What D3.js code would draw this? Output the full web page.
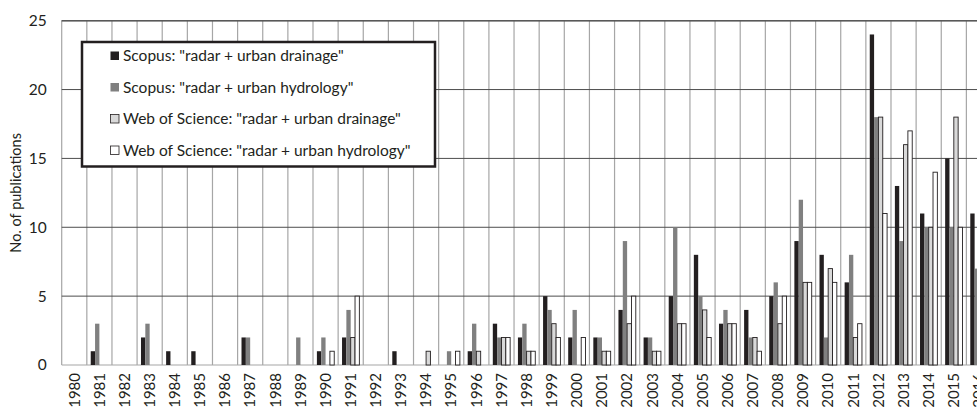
<!DOCTYPE html>
<html>
<head>
<meta charset="utf-8">
<script src="https://cdn.jsdelivr.net/npm/d3@7"></script>
<style>
  body { margin: 0; background: #fff; }
  svg { display: block; font-family: Lato, "Open Sans", sans-serif; }
</style>
</head>
<body>
<div id="chart"></div>
<script>
const years = d3.range(1980, 2017).map(String);

// values, one per year 1980..2016 (null = cut off at the right edge)
const scopusDrainage   = [0,1,0,2,1,1,0,2,0,0,1,2,0,1,0,0,1,3,2,5,2,2,4,2,5,8,3,4,5,9,8,6,24,13,11,15,11];
const scopusHydrology  = [0,3,0,3,0,0,0,2,0,2,2,4,0,0,0,1,3,2,3,4,4,2,9,2,10,5,4,2,6,12,2,8,18,9,10,10,7];
const wosDrainage      = [0,0,0,0,0,0,0,0,0,0,0,2,0,0,1,0,1,2,1,3,0,1,3,1,3,4,3,2,3,6,7,2,18,16,10,18,null];
const wosHydrology     = [0,0,0,0,0,0,0,0,0,0,1,5,0,0,0,1,0,2,1,2,2,1,5,1,3,2,3,1,5,6,6,3,11,17,14,10,null];

const seriesNames = [
  'Scopus: "radar + urban drainage"',
  'Scopus: "radar + urban hydrology"',
  'Web of Science: "radar + urban drainage"',
  'Web of Science: "radar + urban hydrology"'
];
const yTicks = [0, 5, 10, 15, 20, 25];

const series = [scopusDrainage, scopusHydrology, wosDrainage, wosHydrology];
const fills = ['#231f20', '#808080', '#d9d9d9', '#ffffff'];
const strokes = ['none', 'none', '#231f20', '#231f20'];

const width = 977, height = 408;
const plotLeft = 61.7, plotTop = 20.7, plotBottom = 365;
const band = 25.13;

const svg = d3.select('#chart').append('svg')
  .attr('width', width)
  .attr('height', height);

const x = d3.scaleBand().domain(years)
  .range([plotLeft, plotLeft + band * years.length])
  .padding(0);

const y = d3.scaleLinear().domain([0, 25]).range([plotBottom, plotTop]);

const barW = x.bandwidth() / 5.8;   // excel style, gap width 180%

// vertical gridlines at category boundaries
svg.append('g').selectAll('line.vgrid')
  .data(years)
  .join('line')
    .attr('x1', d => x(d)).attr('x2', d => x(d))
    .attr('y1', plotTop).attr('y2', plotBottom)
    .attr('stroke', '#a6a6a6').attr('stroke-width', 1.2);

// horizontal gridlines
svg.append('g').selectAll('line.hgrid')
  .data(yTicks.filter(d => d > 0))
  .join('line')
    .attr('x1', plotLeft).attr('x2', width)
    .attr('y1', d => y(d)).attr('y2', d => y(d))
    .attr('stroke', '#4d4d4d').attr('stroke-width', 1);

// baseline
svg.append('line')
  .attr('x1', plotLeft).attr('x2', width)
  .attr('y1', y(0)).attr('y2', y(0))
  .attr('stroke', '#a6a6a6').attr('stroke-width', 1.2);

// bars
series.forEach((vals, i) => {
  svg.append('g').selectAll('rect')
    .data(years.map((yr, j) => ({ yr, v: vals[j] })).filter(d => d.v))
    .join('rect')
      .attr('x', d => x(d.yr) + 0.9 * barW + i * barW)
      .attr('y', d => y(d.v))
      .attr('width', barW)
      .attr('height', d => y(0) - y(d.v))
      .attr('fill', fills[i])
      .attr('stroke', strokes[i])
      .attr('stroke-width', 0.9);
});

// y axis
const yAxis = d3.axisLeft(y).tickValues(yTicks).tickSize(0).tickPadding(0);
svg.append('g')
  .attr('transform', `translate(${plotLeft - 15},0)`)
  .call(yAxis)
  .call(g => g.select('.domain').remove())
  .selectAll('text')
    .attr('font-size', 15.5)
    .attr('font-family', 'Lato, sans-serif')
    .attr('fill', '#231f20');

// x axis labels
const xAxis = d3.axisBottom(x).tickSize(0).tickPadding(0);
svg.append('g')
  .attr('transform', `translate(0,${plotBottom})`)
  .call(xAxis)
  .call(g => g.select('.domain').remove())
  .selectAll('text')
    .attr('font-size', 15)
    .attr('font-family', 'Lato, sans-serif')
    .attr('fill', '#231f20')
    .attr('text-anchor', 'end')
    .attr('transform', 'rotate(-90)')
    .attr('x', -8)
    .attr('y', 0)
    .attr('dy', '0.35em');

// top border
svg.append('line')
  .attr('x1', plotLeft).attr('x2', width)
  .attr('y1', plotTop).attr('y2', plotTop)
  .attr('stroke', '#595959').attr('stroke-width', 1.5);

// y axis title
svg.append('text')
  .attr('transform', `translate(21,${(plotTop + plotBottom) / 2}) rotate(-90)`)
  .attr('text-anchor', 'middle')
  .attr('font-size', 14.5)
  .attr('fill', '#231f20')
  .text('No. of publications');

// legend
const legend = svg.append('g');
legend.append('rect')
  .attr('x', 82).attr('y', 42)
  .attr('width', 353).attr('height', 124.5)
  .attr('fill', '#fff')
  .attr('stroke', '#231f20').attr('stroke-width', 2.5);

seriesNames.forEach((name, i) => {
  const cy = 56 + i * 31.5;
  legend.append('rect')
    .attr('x', 110.5).attr('y', cy - 4.5)
    .attr('width', 8.5).attr('height', 8.5)
    .attr('fill', fills[i])
    .attr('stroke', i < 2 ? 'none' : '#231f20')
    .attr('stroke-width', 0.8);
  legend.append('text')
    .attr('x', 123)
    .attr('y', cy)
    .attr('dy', '0.35em')
    .attr('font-size', 15.5)
    .attr('fill', '#231f20')
    .text(name);
});
</script>
</body>
</html>
